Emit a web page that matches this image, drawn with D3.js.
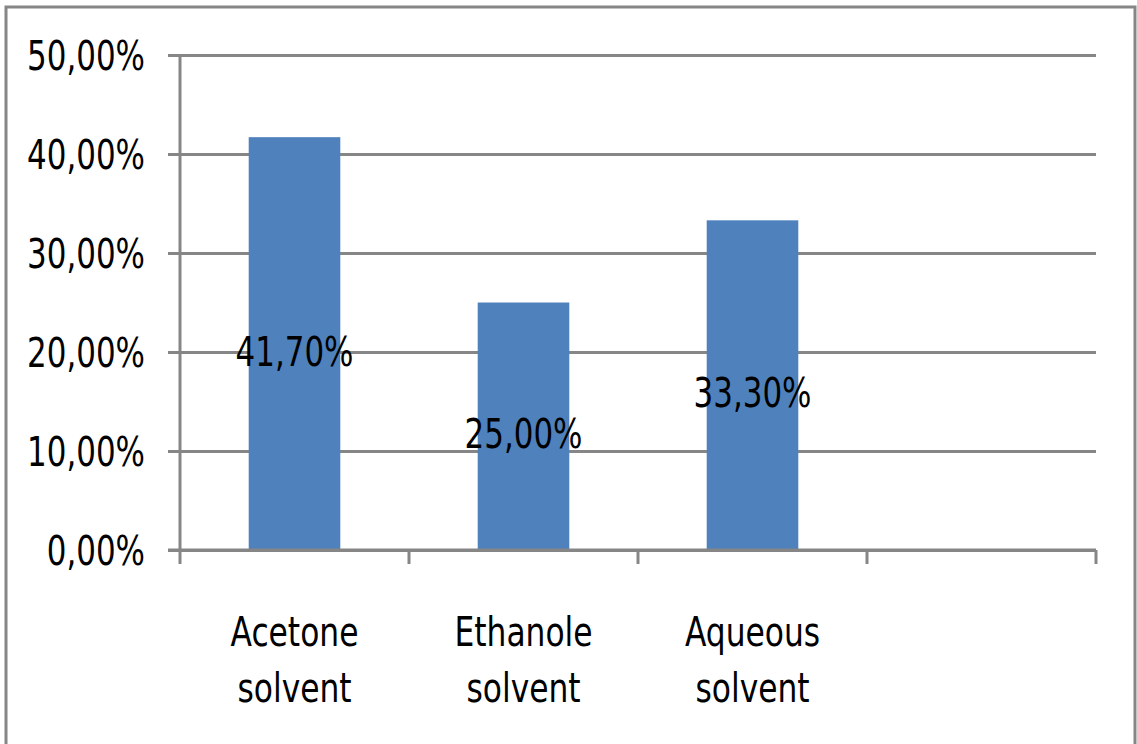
<!DOCTYPE html>
<html>
<head>
<meta charset="utf-8">
<script src="https://cdn.jsdelivr.net/npm/d3@7"></script>
<style>
  html, body { margin: 0; padding: 0; background: #fff; }
  svg { display: block; }
  text { font-family: "DejaVu Sans Condensed", "Liberation Sans Narrow", sans-serif; fill: #000; }
</style>
</head>
<body>
<svg id="chart" width="1137" height="744"></svg>
<script>
// Share of extract by solvent (the fourth slot on the axis is empty)
const categories = [["Acetone", "solvent"], ["Ethanole", "solvent"], ["Aqueous", "solvent"], []];
const values = [41.7, 25.0, 33.3, null];
const yTicks = [0, 10, 20, 30, 40, 50];

const W = 1137, H = 744;
const margin = { left: 180, right: 41, top: 55, bottom: 194 };
const gridColor = "#868686";
const squeeze = 0.86; // narrow the glyphs horizontally
const fmt = v => d3.format(".2f")(v).replace(".", ",") + "%";

const svg = d3.select("#chart");

// Chart frame
svg.append("path")
  .attr("d", `M6,${H + 5} V7 H1135 V${H + 5}`)
  .attr("fill", "none")
  .attr("stroke", gridColor)
  .attr("stroke-width", 3);

const x = d3.scaleBand()
  .domain(d3.range(categories.length))
  .range([margin.left, W - margin.right])
  .paddingInner(0.6).paddingOuter(0.3);
const slot = d3.scaleBand()
  .domain(d3.range(categories.length))
  .range([margin.left, W - margin.right]);
const y = d3.scaleLinear()
  .domain([0, 50])
  .range([H - margin.bottom, margin.top]);

// Horizontal gridlines with left tick stubs
const yAxis = d3.axisLeft(y)
  .tickValues(yTicks)
  .tickSize(-(W - margin.right - margin.left))
  .tickFormat(fmt);
const gy = svg.append("g")
  .attr("transform", `translate(${margin.left},0)`)
  .call(yAxis);
gy.select(".domain").remove();
gy.selectAll(".tick line")
  .attr("x1", -12)
  .attr("stroke", gridColor)
  .attr("stroke-width", 3);
gy.selectAll(".tick text")
  .attr("x", 0)
  .attr("transform", `translate(-35,0) scale(${squeeze},1)`)
  .attr("dy", "0.36em")
  .style("font-size", "40px")
  .attr("fill", "#000");

const barData = values.map((v, i) => ({ v, i })).filter(d => d.v != null);

// Bars
svg.append("g").selectAll("rect")
  .data(barData)
  .join("rect")
  .attr("x", d => x(d.i))
  .attr("width", x.bandwidth())
  .attr("y", d => y(d.v))
  .attr("height", d => y(0) - y(d.v))
  .attr("fill", "#4f81bd");

// Value labels centred inside the bars
svg.append("g").selectAll("text")
  .data(barData)
  .join("text")
  .attr("transform", d => `translate(${x(d.i) + x.bandwidth() / 2},${(y(d.v) + y(0)) / 2}) scale(${squeeze},1)`)
  .attr("dy", "0.55em")
  .attr("text-anchor", "middle")
  .style("font-size", "40px")
  .text(d => fmt(d.v));

// Axes lines
svg.append("line")
  .attr("x1", margin.left).attr("x2", margin.left)
  .attr("y1", margin.top).attr("y2", y(0) + 14)
  .attr("stroke", gridColor).attr("stroke-width", 3);
svg.append("line")
  .attr("x1", margin.left - 12).attr("x2", W - margin.right)
  .attr("y1", y(0)).attr("y2", y(0))
  .attr("stroke", gridColor).attr("stroke-width", 3);

// Category separators below the axis
const edges = slot.domain().map(i => slot(i)).concat([W - margin.right]);
svg.append("g").selectAll("line")
  .data(edges.slice(1))
  .join("line")
  .attr("x1", d => d).attr("x2", d => d)
  .attr("y1", y(0)).attr("y2", y(0) + 14)
  .attr("stroke", gridColor).attr("stroke-width", 3);

// Category labels (two lines each)
const cat = svg.append("g").selectAll("text")
  .data(categories.map((c, i) => ({ c, i })).filter(d => d.c.length))
  .join("text")
  .attr("text-anchor", "middle")
  .attr("transform", d => `translate(${slot(d.i) + slot.bandwidth() / 2},0) scale(0.87,1)`)
  .style("font-size", "40px");
cat.selectAll("tspan")
  .data(d => d.c.map((line, k) => ({ line, k })))
  .join("tspan")
  .attr("x", 0)
  .attr("y", d => 646 + d.k * 56)
  .text(d => d.line);
</script>
</body>
</html>
